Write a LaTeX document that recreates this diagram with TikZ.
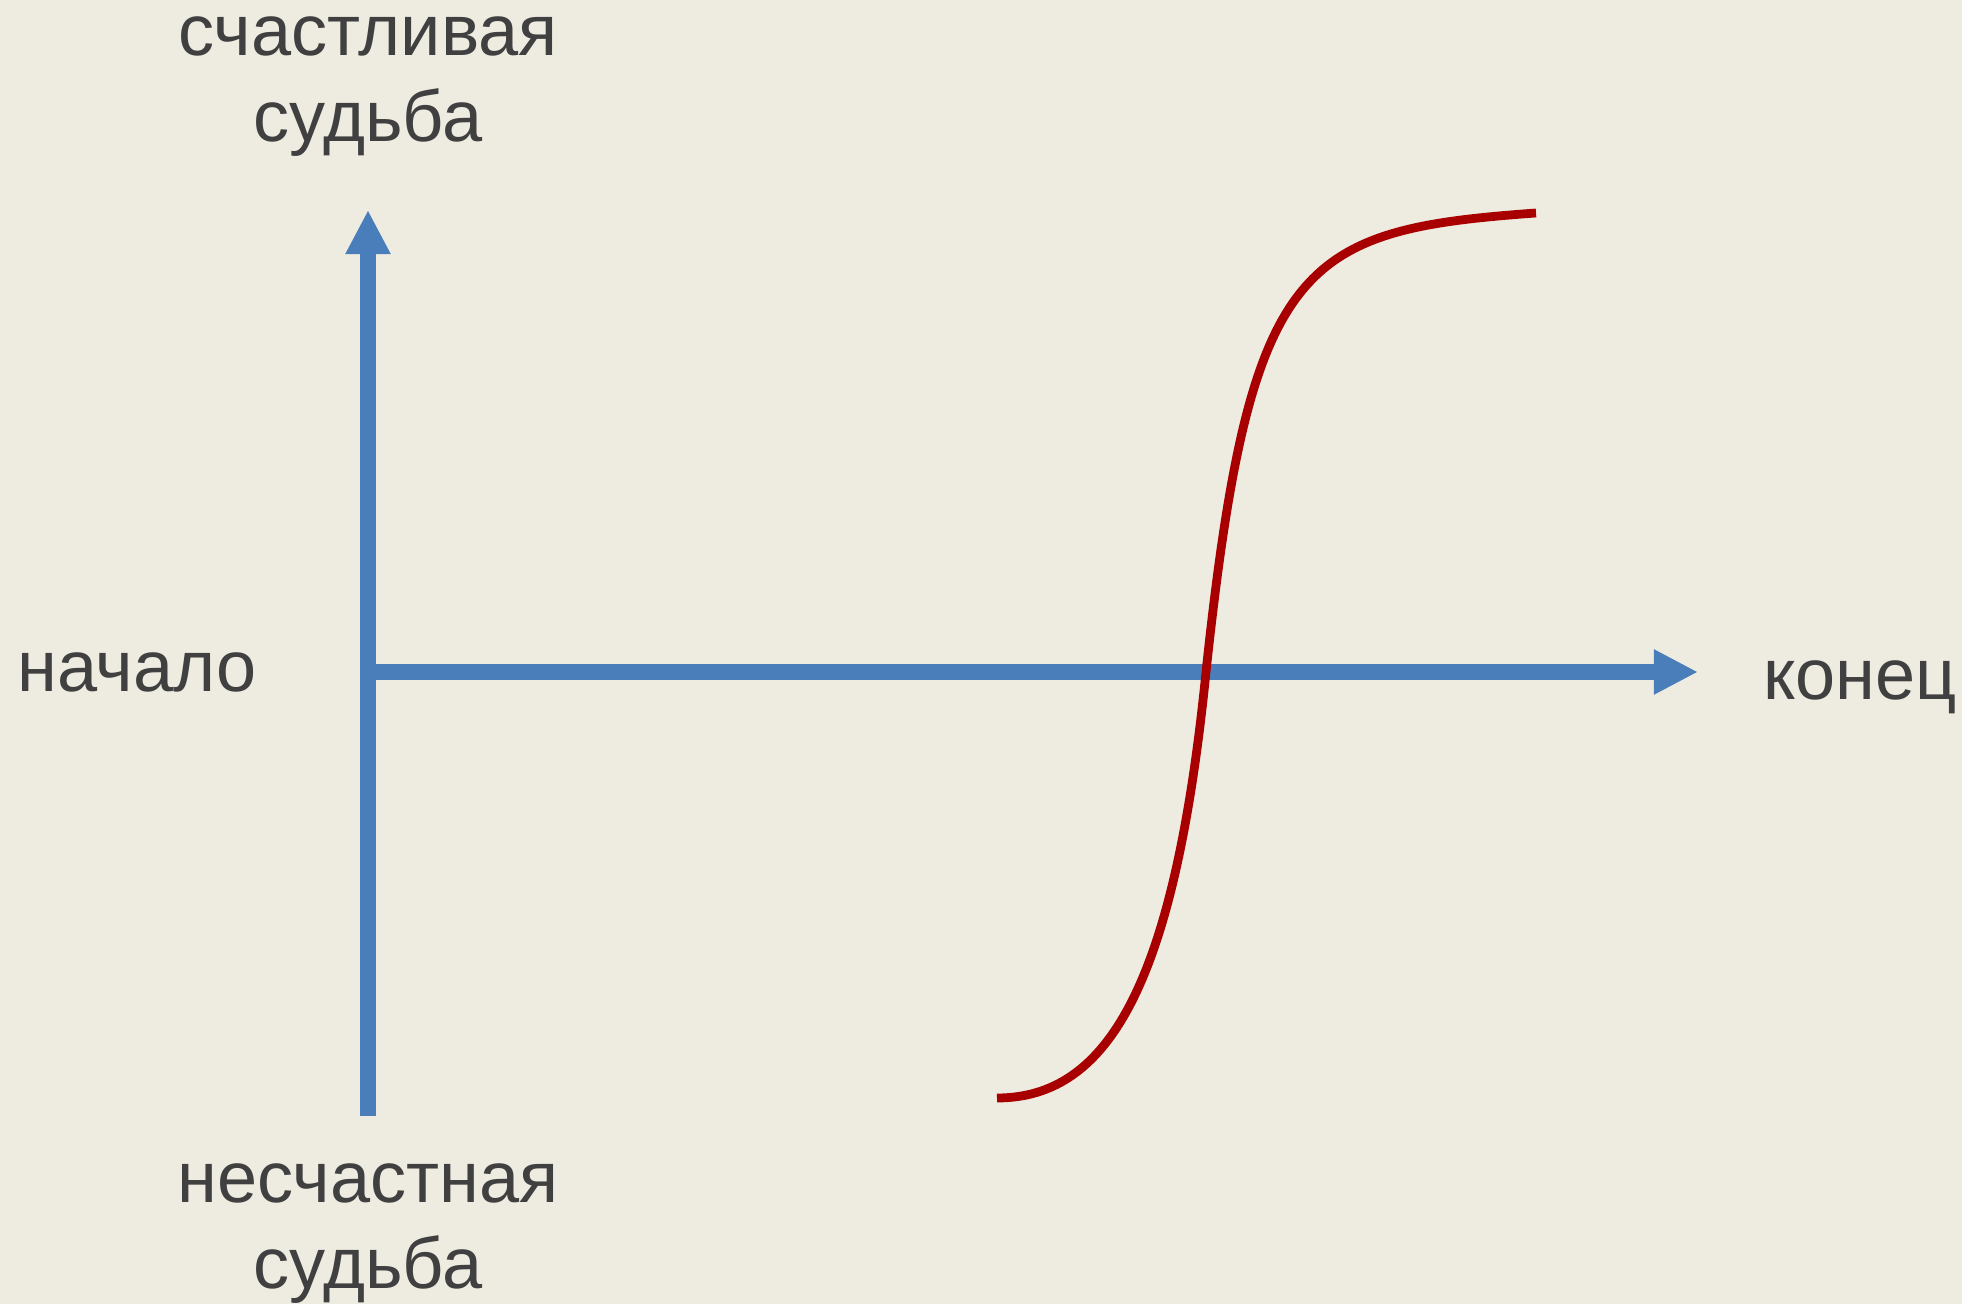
\documentclass[tikz,border=0pt]{standalone}
\usepackage{fontspec}
\setmainfont{Liberation Sans}
\usepackage{tikz}
\usetikzlibrary{arrows.meta,positioning,calc}
\definecolor{paper}{HTML}{EEEBE1}
\definecolor{axisblue}{HTML}{4A7EBB}
\definecolor{fate}{HTML}{A80000}
\definecolor{ink}{HTML}{404040}
\tikzset{
  axisline/.style={axisblue, line width=4.3pt, -{Triangle[length=4.4mm, width=4.2mm]}},
  fateline/.style={fate, line width=2.5pt},
  lbl/.style={font=\fontsize{20.5pt}{24.7pt}\selectfont, text=ink, anchor=base, align=center, inner sep=0pt}
}

\begin{document}
\begin{tikzpicture}[x=0.01cm, y=-0.01cm]
  % background, image size in px
  \fill[paper] (0,0) rectangle (1962,1304);
  \useasboundingbox (0,0) rectangle (1962,1304);
  % axes
  \coordinate (origin) at (368,672);
  \coordinate (low) at (368,1116);
  \coordinate (high) at (368,210);
  \coordinate (end) at (1698,672);
  \draw[axisline] (low) -- (high);
  \draw[axisline] (origin) -- (end);
  % fate curve
  \coordinate (fstart) at (997,1098);
  \coordinate (fcross) at (1206,672);
  \coordinate (fend) at (1536,213);
  \draw[fateline] (fstart) .. controls (1110,1098) and (1175,980) .. (fcross)
        .. controls (1250,260) and (1300,230) .. (fend);
  % labels (base = last line)
  \node[lbl] (happy) at (368,142) {счастливая\\судьба};
  \node[lbl] (unhappy) at (368,1289) {несчастная\\судьба};
  \node[lbl] (start) at (137,692) {начало};
  \node[lbl] (finish) at (1860,700) {конец};
\end{tikzpicture}
\end{document}
